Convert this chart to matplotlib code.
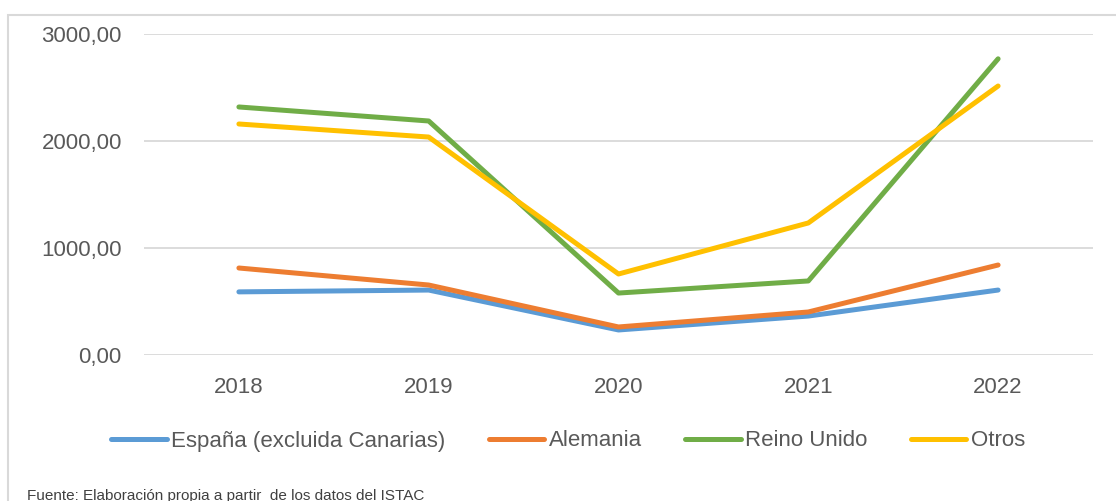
## tourism spending by origin, 2018-2022

import matplotlib.pyplot as plt
from matplotlib.patches import Rectangle

years = ["2018", "2019", "2020", "2021", "2022"]
espana = [590, 607, 234, 364, 607]
alemania = [813, 654, 262, 402, 841]
reino_unido = [2318, 2187, 579, 692, 2768]
otros = [2159, 2037, 757, 1234, 2514]

series = [
    ("España (excluida Canarias)", espana, "#5B9BD5"),
    ("Alemania", alemania, "#ED7D31"),
    ("Reino Unido", reino_unido, "#70AD47"),
    ("Otros", otros, "#FFC000"),
]

plt.rcParams['font.family'] = ['Liberation Sans', 'DejaVu Sans']
txt = "#595959"

fig = plt.figure(figsize=(11.16, 5.01), dpi=100)
ax = fig.add_axes([144 / 1116, 1 - 355 / 501, (1093 - 144) / 1116, (355 - 34) / 501])

x = range(len(years))
for name, vals, col in series:
    ax.plot(x, vals, color=col, lw=3.6, solid_capstyle='round', label=name)

ax.set_xlim(-0.5, 4.5)
ax.set_ylim(0, 3000)
ax.set_yticks([0, 1000, 2000, 3000])
ax.set_yticklabels(["0,00", "1000,00", "2000,00", "3000,00"])
ax.set_xticks(list(x))
ax.set_xticklabels(years)
ax.grid(axis='y', color="#d9d9d9", lw=1.3)
ax.set_axisbelow(True)
for s in ax.spines.values():
    s.set_visible(False)
ax.tick_params(length=0, labelsize=16, labelcolor=txt)
ax.tick_params(axis='y', pad=16)
ax.tick_params(axis='x', pad=16)

leg = fig.legend(loc='center', bbox_to_anchor=(568 / 1116, 1 - 441 / 501), ncol=4,
                 frameon=False, fontsize=16, handlelength=2.5, handletextpad=0.2,
                 columnspacing=1.95)
for t in leg.get_texts():
    t.set_color(txt)

fig.patches.append(Rectangle((8 / 1116, -0.1), 1.2, 1 - 15 / 501 + 0.1,
                             transform=fig.transFigure, fill=False,
                             edgecolor="#d9d9d9", lw=1.5))

fig.text(27 / 1116, 1 - 496 / 501, "Fuente: Elaboración propia a partir  de los datos del ISTAC",
         fontsize=11, color="#404040", va='center')

fig.savefig("out.png", dpi=100)
